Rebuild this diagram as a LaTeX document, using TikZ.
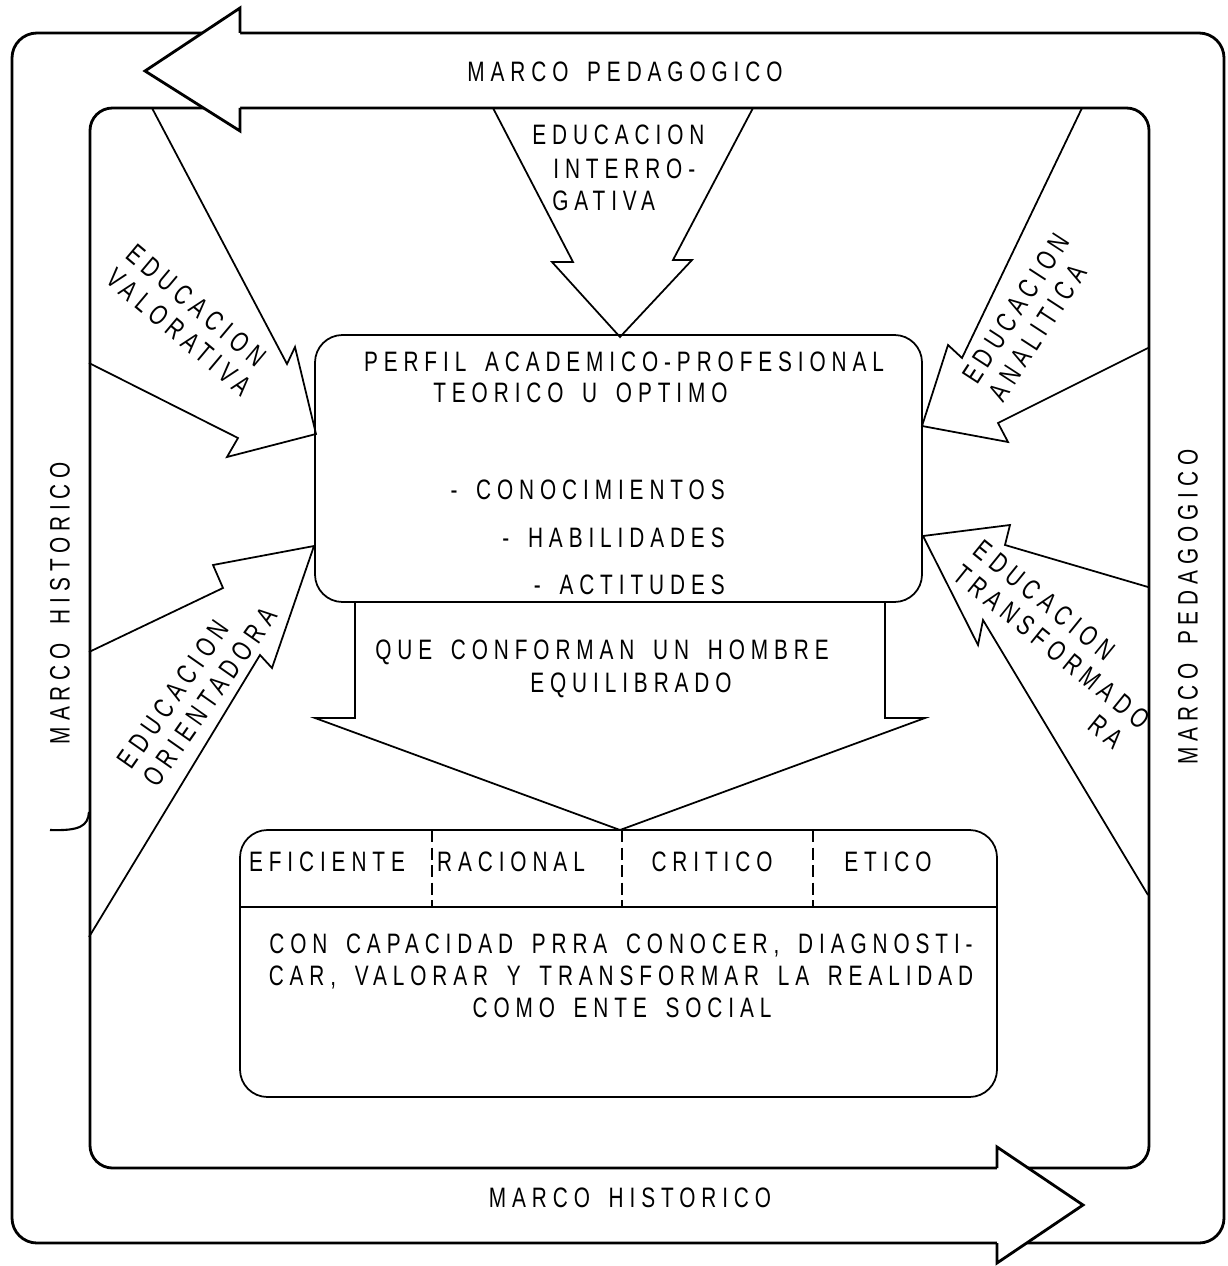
\documentclass[tikz,border=0pt]{standalone}
\usepackage{fontspec}
\setmainfont[FakeStretch=0.74,LetterSpace=21,WordSpace=1.6]{Liberation Sans}
\usetikzlibrary{calc}
\tikzset{>=latex}
\tikzstyle{marco}=[line width=1.6pt,rounded corners=0.5cm]
\tikzstyle{flecha}=[line width=1pt,line join=miter]
\tikzstyle{caja}=[line width=1pt,rounded corners=0.55cm]
\tikzstyle{divisor}=[line width=1pt,dash pattern=on 7pt off 3pt]
\tikzstyle{rotulo}=[inner sep=0pt,font=\fontsize{16}{18}\selectfont]

\begin{document}
\begin{tikzpicture}[x=0.02cm,y=-0.02cm]
\useasboundingbox (0,0) rectangle (1227,1266);

% marcos
\draw[marco] (12,33) rectangle (1224,1243);
\draw[marco,rounded corners=0.45cm] (90,108) rectangle (1149,1168);

% flechas de los marcos
\fill[white] (240,8) -- (145,71) -- (240,131) -- cycle;
\draw[marco,rounded corners=0pt] (240,33) -- (240,8) -- (145,71) -- (240,131) -- (240,108);
\fill[white] (997,1147) -- (1083,1205) -- (997,1263) -- cycle;
\draw[marco,rounded corners=0pt] (997,1168) -- (997,1147) -- (1083,1205) -- (997,1263) -- (997,1243);
\draw[line width=1.2pt] (50,830) .. controls (80,831) and (88,826) .. (89,812);

\node[rotulo] (mped) at (625,72) {MARCO PEDAGOGICO};
\node[rotulo] (mhis) at (630,1198) {MARCO HISTORICO};
\node[rotulo,rotate=90] (mhisL) at (60,603) {MARCO HISTORICO};
\node[rotulo,rotate=90] (mpedR) at (1188,607) {MARCO PEDAGOGICO};

% perfil
\draw[caja] (315,335) rectangle (922,602);
\node[rotulo] (perfil) at (624,362) {PERFIL ACADEMICO-PROFESIONAL};
\node[rotulo,anchor=west] (teorico) at (433,393) {TEORICO U OPTIMO};
\node[rotulo,anchor=east] (conoc) at (725,490) {- CONOCIMIENTOS};
\node[rotulo,anchor=east] (habil) at (725,538) {- HABILIDADES};
\node[rotulo,anchor=east] (actit) at (725,585) {- ACTITUDES};

% educacion interrogativa
\draw[flecha] (493,108) -- (573,262) -- (552,262) -- (620,337) -- (692,260) -- (673,260) -- (753,108);
\node[rotulo,anchor=west] (inter1) at (532,135) {EDUCACION};
\node[rotulo,anchor=west] (inter2) at (553,169) {INTERRO-};
\node[rotulo,anchor=west] (inter3) at (552,201) {GATIVA};

% educacion valorativa
\draw[flecha] (152,108) -- (287,364) -- (295,347) -- (316,434) -- (227,457) -- (238,438) -- (89,363);
\node[rotulo,align=left,rotate=-40] (valor) at (189,320) {EDUCACION\\VALORATIVA};

% educacion orientadora
\draw[flecha] (89,652) -- (223,588) -- (213,565) -- (314,546) -- (272,668) -- (260,655) -- (89,937);
\node[rotulo,align=left,rotate=55] (orien) at (197,688) {EDUCACION\\ORIENTADORA};

% educacion analitica
\draw[flecha] (1082,108) -- (962,358) -- (948,345) -- (922,426) -- (1008,442) -- (998,423) -- (1148,348);
\node[rotulo,align=left,rotate=57] (anal) at (1029,317) {EDUCACION\\ANALITICA};

% educacion transformadora
\draw[flecha] (1148,587) -- (1005,545) -- (1010,525) -- (923,536) -- (978,645) -- (983,620) -- (1148,895);
\node[rotulo,align=left,rotate=-39] (trans) at (1052,647) {EDUCACION\\TRANSFORMADO\\\phantom{TRANSFORMA}RA};

% hombre equilibrado
\draw[flecha] (355,602) -- (355,718) -- (315,718) -- (620,830) -- (925,718) -- (885,718) -- (885,602);
\node[rotulo,anchor=west] (hombre) at (375,652) {QUE CONFORMAN UN HOMBRE};
\node[rotulo,anchor=west] (equil) at (530,685) {EQUILIBRADO};

% cualidades
\draw[caja] (240,830) rectangle (997,1097);
\draw[flecha] (240,907) -- (997,907);
\foreach \x in {432,622,813}
  \draw[divisor] (\x,830) -- (\x,907);
\foreach \x/\t in {327/EFICIENTE,511/RACIONAL,712/CRITICO,888/ETICO}
  \node[rotulo] (c\t) at (\x,862) {\t};
\node[rotulo] (cap1) at (621,945) {CON CAPACIDAD PRRA CONOCER, DIAGNOSTI-};
\node[rotulo] (cap2) at (621,977) {CAR, VALORAR Y TRANSFORMAR LA REALIDAD};
\node[rotulo] (cap3) at (622,1008) {COMO ENTE SOCIAL};

\end{tikzpicture}
\end{document}
